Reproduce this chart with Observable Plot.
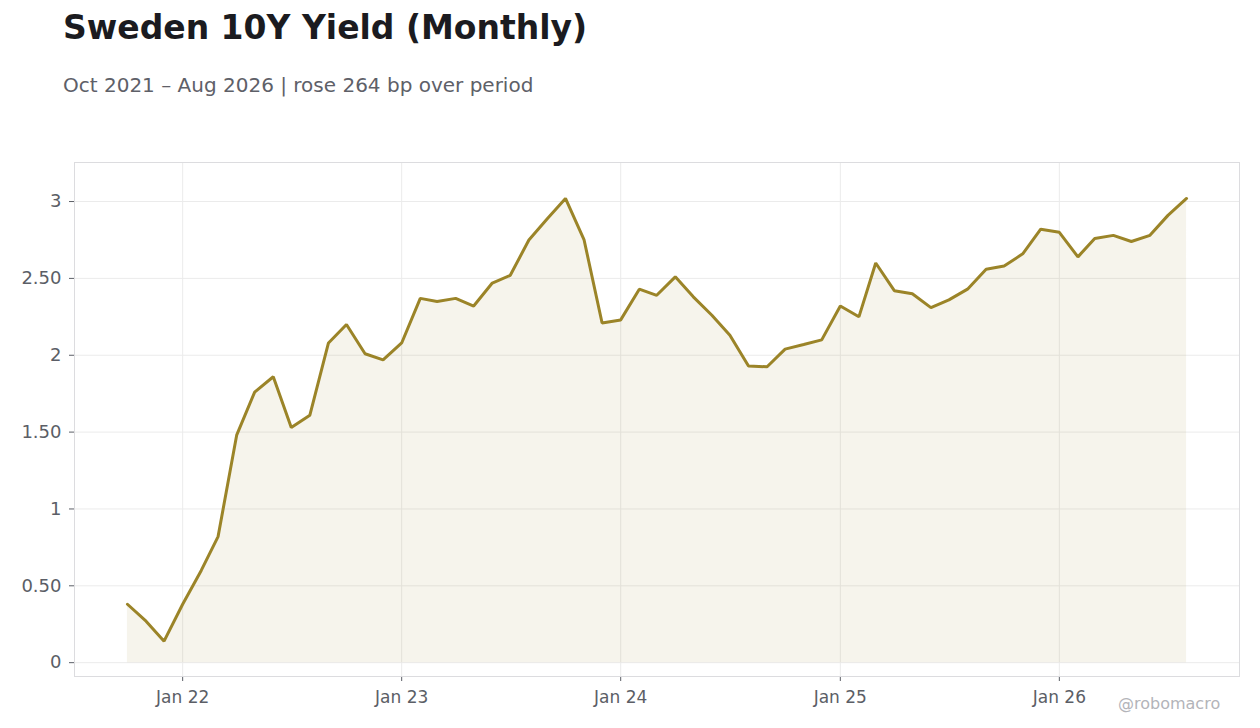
<!DOCTYPE html>
<html>
<head>
<meta charset="utf-8">
<script src="https://cdn.jsdelivr.net/npm/d3@7"></script>
<script src="https://cdn.jsdelivr.net/npm/@observablehq/plot@0.6"></script>
<style>
  html, body { margin: 0; padding: 0; background: #fff; }
  body { width: 1260px; height: 728px; position: relative; overflow: hidden; font-family: "DejaVu Sans", sans-serif; }
  #header { height: 120px; position: relative; }
  #title { position: absolute; left: 63px; top: 8px; font-size: 33px; font-weight: bold; color: #1b1b20; white-space: nowrap; }
  #subtitle { position: absolute; left: 63px; top: 73px; font-size: 20px; color: #5e6068; white-space: nowrap; }
  #credit { position: absolute; left: 1118px; top: 694px; font-size: 16px; color: #b3b4b9; white-space: nowrap; }
  #chart svg { display: block; }
</style>
</head>
<body>
<div id="header">
  <div id="title">Sweden 10Y Yield (Monthly)</div>
  <div id="subtitle">Oct 2021 – Aug 2026 | rose 264 bp over period</div>
</div>
<div id="chart"></div>
<div id="credit">@robomacro</div>
<script>
// Monthly data, Oct 2021 – Aug 2026
const startMonth = "2021-10";
const endMonth = "2026-08";
const yields = [
  0.38, 0.27, 0.14,                                                   // 2021 Oct-Dec
  0.38, 0.60, 0.82, 1.48, 1.76, 1.86, 1.53, 1.61, 2.08, 2.20, 2.01, 1.97, // 2022
  2.08, 2.37, 2.35, 2.37, 2.32, 2.47, 2.52, 2.75, 2.89, 3.02, 2.75, 2.21, // 2023
  2.23, 2.43, 2.39, 2.51, 2.38, 2.26, 2.13, 1.93, 1.925, 2.04, 2.07, 2.10, // 2024
  2.32, 2.25, 2.60, 2.42, 2.40, 2.31, 2.36, 2.43, 2.56, 2.58, 2.66, 2.82, // 2025
  2.80, 2.64, 2.76, 2.78, 2.74, 2.78, 2.91, 3.02                      // 2026 Jan-Aug
];
const yTicks = [0, 0.5, 1, 1.5, 2, 2.5, 3];
const xTickYears = ["2022-01", "2023-01", "2024-01", "2025-01", "2026-01"];

const parseMonth = d3.utcParse("%Y-%m");
const months = d3.utcMonth.range(parseMonth(startMonth), d3.utcMonth.offset(parseMonth(endMonth), 1));
const data = months.map((date, i) => ({date, value: yields[i]}));

const t0 = +months[0], t1 = +months[months.length - 1];
const pad = (t1 - t0) * 0.05;
const xDomain = [new Date(t0 - pad), new Date(t1 + pad)];
const xTicks = xTickYears.map(parseMonth);

const lineColor = "#9b8428";
const gridColor = "#ebebeb";
const yFmt = d => Number.isInteger(d) ? String(d) : d.toFixed(2);

const chart = Plot.plot({
  width: 1260,
  height: 608,
  marginLeft: 74,
  marginRight: 21,
  marginTop: 42,
  marginBottom: 52,
  style: { fontFamily: "DejaVu Sans, sans-serif", fontSize: "17px", color: "#5b5e66", background: "#fff" },
  x: { type: "utc", domain: xDomain, ticks: xTicks, tickFormat: d3.utcFormat("%b %y"), label: null },
  y: { domain: [-0.09, 3.254], ticks: yTicks, label: null, tickFormat: yFmt },
  marks: [
    Plot.gridY(yTicks, { stroke: gridColor, strokeOpacity: 1, strokeWidth: 1 }),
    Plot.gridX(xTicks, { stroke: gridColor, strokeOpacity: 1, strokeWidth: 1 }),
    Plot.areaY(data, { x: "date", y: "value", fill: lineColor, fillOpacity: 0.085 }),
    Plot.lineY(data, { x: "date", y: "value", stroke: lineColor, strokeWidth: 3, strokeLinejoin: "miter" }),
    Plot.axisY(yTicks, { tickSize: 5, tickPadding: 8, stroke: "#5b5e66", fill: "#5b5e66", fontSize: 18, tickFormat: yFmt }),
    Plot.axisX(xTicks, { tickSize: 5, tickPadding: 9, stroke: "#5b5e66", fill: "#5b5e66", tickFormat: d3.utcFormat("%b %y") }),
    Plot.frame({ stroke: "#dcdcdf", strokeWidth: 1 })
  ]
});
document.getElementById("chart").appendChild(chart);
</script>
</body>
</html>
